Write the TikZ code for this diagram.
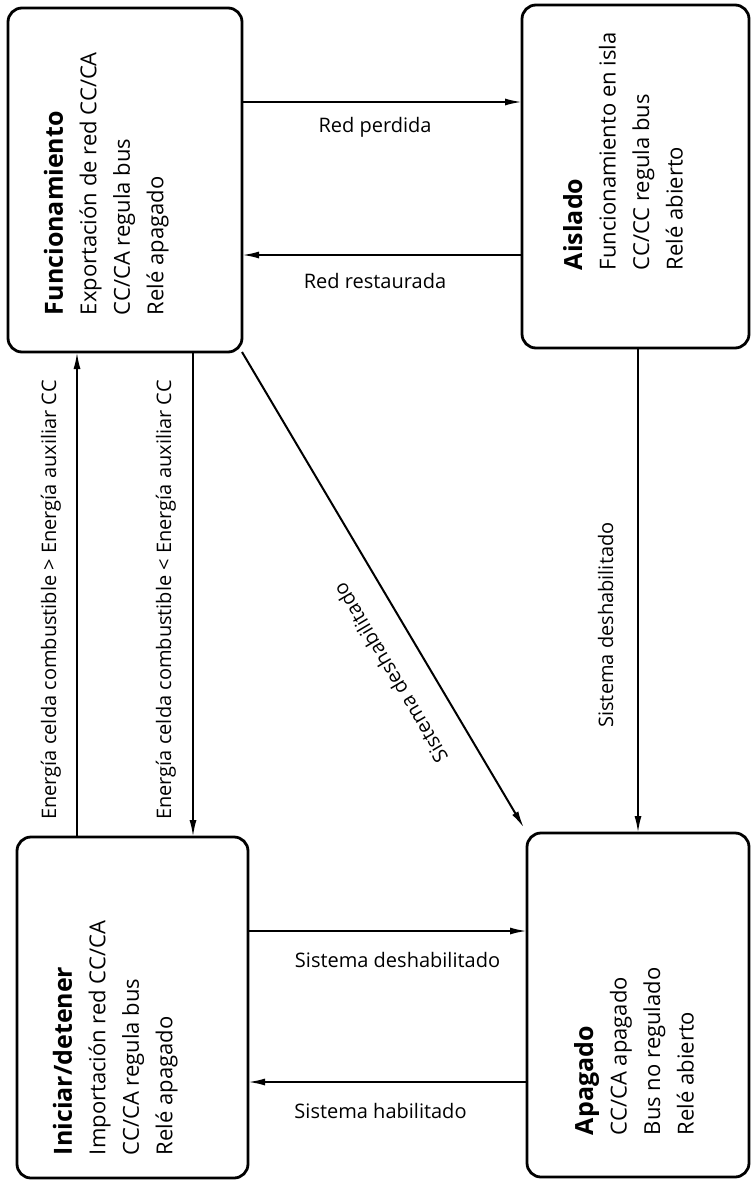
\documentclass[tikz,border=0pt]{standalone}
\usepackage{fontspec}
\setmainfont{Open Sans}
\usetikzlibrary{arrows.meta,calc}
\begin{document}
\begin{tikzpicture}[x=1pt,y=-1pt,
  statebox/.style={draw, line width=2.8pt, rounded corners=14pt, inner sep=0pt, outer sep=0pt},
  statetext/.style={rotate=90, anchor=north west, align=left, inner sep=0pt, outer sep=0pt, font=\fontsize{22}{33.5}\selectfont},
  arr/.style={line width=2pt, -{Latex[length=17pt,width=7pt]}},
  lbl/.style={font=\fontsize{20}{24}\selectfont, inner sep=0pt, outer sep=0pt},
  hd/.style={font=\fontsize{25}{33.5}\selectfont\bfseries}]
\useasboundingbox (0,0) rectangle (752,1180);
% state boxes
\node[statebox, minimum width=234pt, minimum height=344pt] (f) at (125,180) {};
\node[statebox, minimum width=227pt, minimum height=343pt] (ai) at (635.5,176.5) {};
\node[statebox, minimum width=231pt, minimum height=341pt] (in) at (132.5,1007.5) {};
\node[statebox, minimum width=222pt, minimum height=344pt] (ap) at (638,1005) {};
% state texts
\node[statetext] (ft) at (44,315) {{\fontsize{25}{33.5}\selectfont\bfseries Funcionamiento}\\Exportación de red CC/CA\\CC/CA regula bus\\Relé apagado};
\node[statetext] (ait) at (563,270) {{\fontsize{25}{33.5}\selectfont\bfseries Aislado}\\Funcionamiento en isla\\CC/CC regula bus\\Relé abierto};
\node[statetext] (int) at (53,1155) {{\fontsize{25}{33.5}\selectfont\bfseries Iniciar/detener}\\Importación red CC/CA\\CC/CA regula bus\\Relé apagado};
\node[statetext] (apt) at (574,1135) {{\fontsize{25}{33.5}\selectfont\bfseries Apagado}\\CC/CA apagado\\Bus no regulado\\Relé abierto};
% horizontal transitions
\draw[arr] (f.east |- 0,102) -- node[lbl, pos=0.475, anchor=base, yshift=-30pt] (l1) {Red perdida} (ai.west |- 0,102);
\draw[arr] (ai.west |- 0,255) -- node[lbl, pos=0.525, anchor=base, yshift=-33pt] (l2) {Red restaurada} (f.east |- 0,255);
\draw[arr] (in.east |- 0,931) -- node[lbl, pos=0.536, anchor=base, yshift=-36pt] (l3) {Sistema deshabilitado} (ap.west |- 0,931);
\draw[arr] (ap.west |- 0,1082) -- node[lbl, pos=0.525, anchor=base, yshift=-36pt] (l4) {Sistema habilitado} (in.east |- 0,1082);
% vertical transitions
\draw[arr] (in.north -| 77,0) -- (f.south -| 77,0);
\draw[arr] (f.south -| 193,0) -- (in.north -| 193,0);
\draw[arr] (ai.south -| 638,0) -- (ap.north -| 638,0);
\node[lbl, rotate=90, anchor=base] (l5) at (56,600) {Energía celda combustible > Energía auxiliar CC};
\node[lbl, rotate=90, anchor=base] (l6) at (171,600) {Energía celda combustible < Energía auxiliar CC};
\node[lbl, rotate=90, anchor=base] (l7) at (613,625) {Sistema deshabilitado};
% diagonal transition
\draw[arr, shorten >=6pt] (f.south east) -- coordinate[pos=0.629] (dm) (ap.north west);
\node[lbl, rotate=120.6] (l8) at ($(dm)!36pt!-90:(ap.north west)$) {Sistema deshabilitado};
\end{tikzpicture}
\end{document}
